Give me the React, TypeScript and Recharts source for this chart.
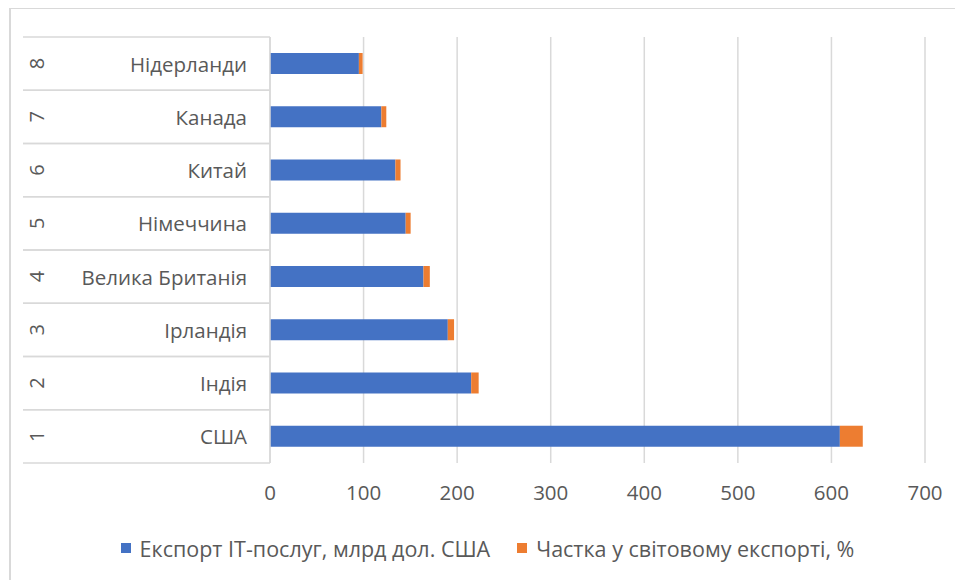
import { Bar, BarChart, CartesianGrid, Legend, XAxis, YAxis } from "recharts";

const ranks = ["1", "2", "3", "4", "5", "6", "7", "8"];
const countries = ["США", "Індія", "Ірландія", "Велика Британія", "Німеччина", "Китай", "Канада", "Нідерланди"];
const exportValues = [609, 215, 190, 164, 145, 134, 119, 95];
const shareValues = [24.5, 8, 6.7, 6.8, 5.3, 5.5, 5.3, 4];
const xTicks = [0, 100, 200, 300, 400, 500, 600, 700];

const data = countries.map((name, i) => ({
  rank: ranks[i],
  name,
  exportIT: exportValues[i],
  share: shareValues[i],
}));

const FONT = "'Open Sans', 'Liberation Sans', sans-serif";
const GRID = "#d9d9d9";
const TEXT = "#595959";
const BAND = 426 / 8;

function CategoryTick({ x, y, payload }: { x?: number; y?: number; payload?: { value: string } }) {
  const cx = x ?? 0;
  const cy = y ?? 0;
  const row = data.find((d) => d.name === payload?.value);
  return (
    <g>
      <line x1={15} x2={cx} y1={cy - BAND / 2} y2={cy - BAND / 2} stroke={GRID} strokeWidth={1.5} />
      <line x1={15} x2={cx} y1={cy + BAND / 2} y2={cy + BAND / 2} stroke={GRID} strokeWidth={1.5} />
      <text
        x={28}
        y={cy}
        transform={`rotate(-90 28 ${cy})`}
        textAnchor="middle"
        dominantBaseline="central"
        fontSize={20}
        fontFamily={FONT}
        fill={TEXT}
      >
        {row?.rank}
      </text>
      <text x={239} y={cy} textAnchor="end" dominantBaseline="central" fontSize={20.5} fontFamily={FONT} fill={TEXT}>
        {payload?.value}
      </text>
    </g>
  );
}

function LegendContent() {
  const items = [
    { label: "Експорт IT-послуг, млрд дол. США", color: "#4472C4" },
    { label: "Частка у світовому експорті, %", color: "#ED7D31" },
  ];
  return (
    <div style={{ height: 30, display: "flex", justifyContent: "center", alignItems: "center", gap: 27, paddingLeft: 42 }}>
      {items.map((it) => (
        <div key={it.label} style={{ display: "flex", alignItems: "center", gap: 9 }}>
          <span style={{ width: 10, height: 10, background: it.color, display: "inline-block" }} />
          <span style={{ fontFamily: FONT, fontSize: 21.5, color: TEXT, whiteSpace: "nowrap" }}>{it.label}</span>
        </div>
      ))}
    </div>
  );
}

export default function App() {
  return (
    <div style={{ position: "relative", width: 955, height: 572, background: "#fff" }}>
      <div
        style={{
          position: "absolute",
          left: 1,
          top: -1,
          width: 960,
          height: 580,
          borderTop: `2px solid ${GRID}`,
          borderLeft: `2px solid ${GRID}`,
          boxSizing: "border-box",
        }}
      />
      <BarChart
        width={955}
        height={572}
        data={data}
        layout="vertical"
        barCategoryGap="30%"
        margin={{ top: 29, right: 38, left: 0, bottom: 0 }}
      >
        <CartesianGrid horizontal={false} stroke={GRID} strokeWidth={1.5} />
        <XAxis
          type="number"
          domain={[0, 700]}
          ticks={xTicks}
          axisLine={false}
          tickLine={false}
          tickSize={0}
          tickMargin={22}
          height={87}
          tick={{ fontSize: 20.5, fontFamily: FONT, fill: TEXT }}
        />
        <YAxis
          type="category"
          dataKey="name"
          reversed
          width={262}
          axisLine={{ stroke: GRID, strokeWidth: 1.5 }}
          tickLine={false}
          tickSize={0}
          tickMargin={0}
          interval={0}
          tick={<CategoryTick />}
        />
        <Legend verticalAlign="bottom" content={<LegendContent />} wrapperStyle={{ bottom: 17 }} />
        <Bar dataKey="exportIT" stackId="a" fill="#4472C4" isAnimationActive={false} />
        <Bar dataKey="share" stackId="a" fill="#ED7D31" isAnimationActive={false} />
      </BarChart>
    </div>
  );
}
